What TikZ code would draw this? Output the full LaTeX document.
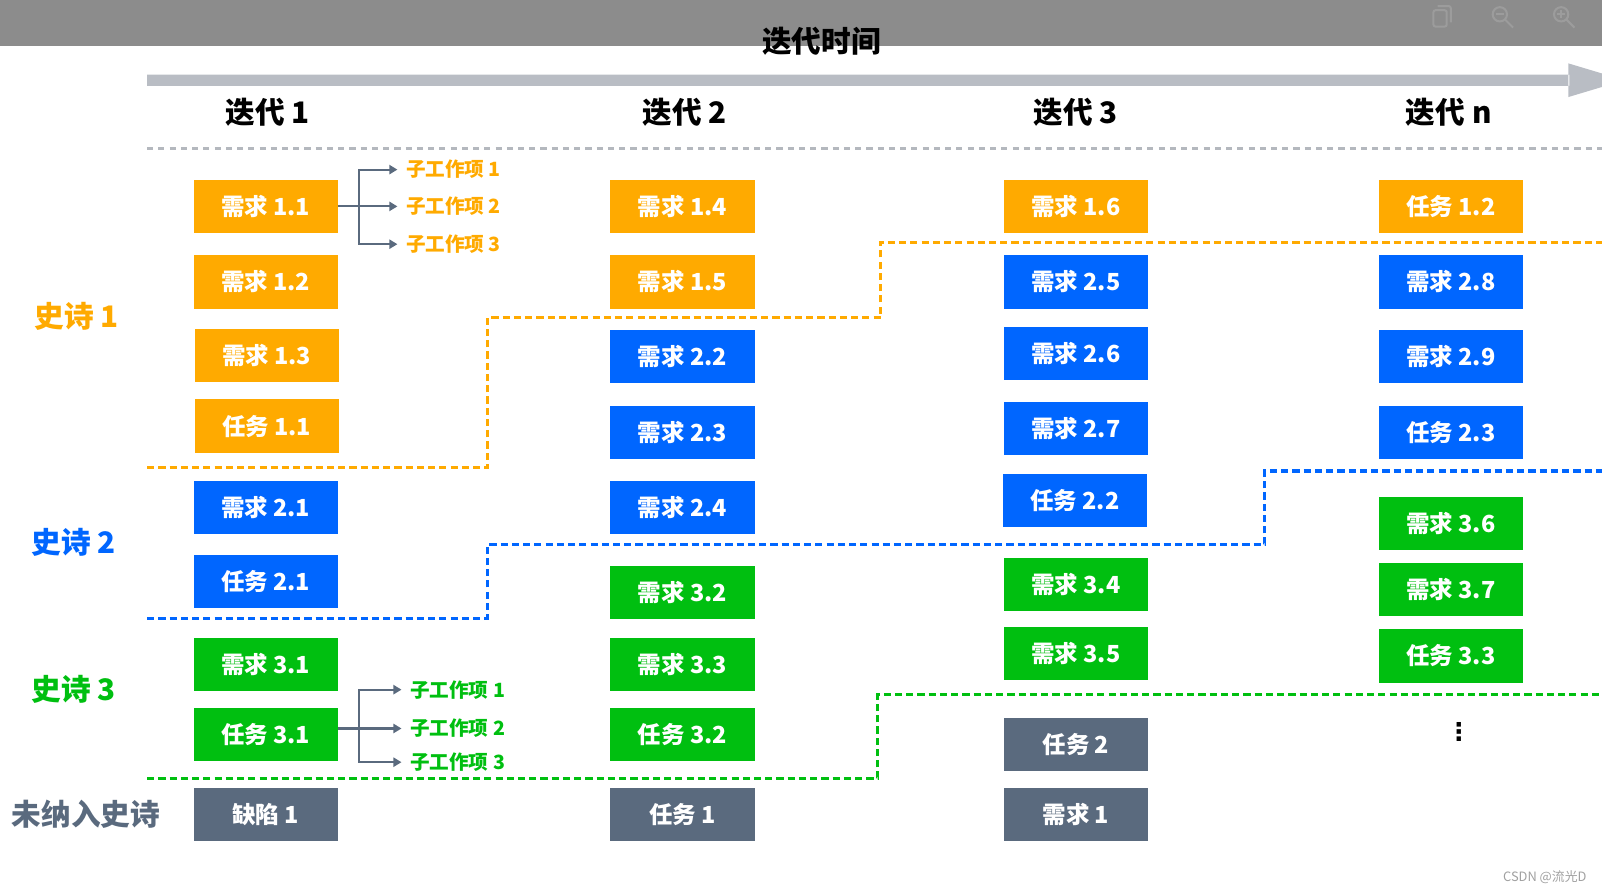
\documentclass[tikz,border=0pt]{standalone}
\usepackage{fontspec}
\setmainfont{Noto Sans CJK SC}
\newfontfamily\dejavu{DejaVu Sans}
\usetikzlibrary{arrows.meta}
\definecolor{org}{HTML}{FFAA00}
\definecolor{blu}{HTML}{0066FF}
\definecolor{grn}{HTML}{00BF10}
\definecolor{slt}{HTML}{5A6A7E}
\definecolor{topbar}{HTML}{8C8C8C}
\definecolor{iconc}{HTML}{9C9C9C}
\definecolor{axis}{HTML}{B9BDC4}
\definecolor{dashg}{HTML}{B4B8BE}
\definecolor{wm}{HTML}{A0A0A0}
\begin{document}
\begin{tikzpicture}[x=0.5pt,y=-0.5pt,
  item/.style={minimum width=70.5pt,minimum height=26pt,inner sep=0pt,text=white,
    font=\bfseries\fontsize{11.5}{12}\selectfont},
  ob/.style={item,fill=org},
  bb/.style={item,fill=blu},
  gb/.style={item,fill=grn},
  sb/.style={item,fill=slt},
  hdr/.style={font=\bfseries\fontsize{14.5}{15}\selectfont,text=black},
  epic/.style={font=\bfseries\fontsize{14.5}{15}\selectfont},
  subitem/.style={font=\bfseries\fontsize{9.6}{10}\selectfont,anchor=west,inner sep=0pt},
  bound/.style={line width=1.5pt,dash pattern=on 3.5pt off 2pt},
  branch/.style={draw=slt,line width=1pt},
  brarrow/.style={branch,-{Triangle[length=4pt,width=4.5pt]},shorten >=4pt},
]
\useasboundingbox (0,0) rectangle (1568,875);
% top bar
\fill[topbar] (0,0) rectangle (1568,45);
% faint icons
\draw[iconc,line width=1pt,rounded corners=1pt] (1403,10) rectangle (1416,26);
\draw[iconc,line width=1pt,rounded corners=1pt] (1407,6) -- (1420,6) -- (1420,22);
\draw[iconc,line width=1pt] (1468,14) circle (7);
\draw[iconc,line width=1pt] (1473,19) -- (1481,27);
\draw[iconc,line width=0.8pt] (1464,14) -- (1472,14);
\draw[iconc,line width=1pt] (1528,14) circle (7);
\draw[iconc,line width=1pt] (1533,19) -- (1541,27);
\draw[iconc,line width=0.8pt] (1524,14) -- (1532,14) (1528,10) -- (1528,18);
\node[font=\bfseries\fontsize{14.5}{15}\selectfont] (title) at (804,40) {迭代时间};
% time axis
\fill[axis] (144,73) rectangle (1536,84) (1535,62) -- (1590,78.5) -- (1535,95) -- cycle;
% headers
\node[hdr] (h1) at (262,110) {迭代 1};
\node[hdr] (h2) at (670,110) {迭代 2};
\node[hdr] (h3) at (1053,110) {迭代 3};
\node[hdr] (h4) at (1418,110) {迭代 n};
\draw[dashg,line width=1.5pt,dash pattern=on 3pt off 2.5pt] (144,145) -- (1568,145);
% epics
\node[epic,text=org] (e1) at (75,310) {史诗 1};
\node[epic,text=blu] (e2) at (72,531) {史诗 2};
\node[epic,text=grn] (e3) at (72,675) {史诗 3};
\node[epic,text=slt] (e0) at (84,797) {未纳入史诗};
% column 1
\node[ob] (a1) at (260,202) {需求 1.1};
\node[ob] (a2) at (260,276) {需求 1.2};
\node[ob] (a3) at (261,348) {需求 1.3};
\node[ob] (a4) at (261,417) {任务 1.1};
\node[bb] (a5) at (260,497) {需求 2.1};
\node[bb] (a6) at (260,569) {任务 2.1};
\node[gb] (a7) at (260,650) {需求 3.1};
\node[gb] (a8) at (260,719) {任务 3.1};
\node[sb] (a9) at (260,797) {缺陷 1};
% column 2
\node[ob] (b1) at (668,202) {需求 1.4};
\node[ob] (b2) at (668,276) {需求 1.5};
\node[bb] (b3) at (668,349) {需求 2.2};
\node[bb] (b4) at (668,423) {需求 2.3};
\node[bb] (b5) at (668,497) {需求 2.4};
\node[gb] (b6) at (668,580) {需求 3.2};
\node[gb] (b7) at (668,650) {需求 3.3};
\node[gb] (b8) at (668,719) {任务 3.2};
\node[sb] (b9) at (668,797) {任务 1};
% column 3
\node[ob] (c1) at (1053,202) {需求 1.6};
\node[bb] (c2) at (1053,276) {需求 2.5};
\node[bb] (c3) at (1053,346) {需求 2.6};
\node[bb] (c4) at (1053,419) {需求 2.7};
\node[bb] (c5) at (1052,490) {任务 2.2};
\node[gb] (c6) at (1053,572) {需求 3.4};
\node[gb] (c7) at (1053,640) {需求 3.5};
\node[sb] (c8) at (1053,729) {任务 2};
\node[sb] (c9) at (1053,797) {需求 1};
% column 4
\node[ob] (d1) at (1420,202) {任务 1.2};
\node[bb] (d2) at (1420,276) {需求 2.8};
\node[bb] (d3) at (1420,349) {需求 2.9};
\node[bb] (d4) at (1420,423) {任务 2.3};
\node[gb] (d5) at (1420,512) {需求 3.6};
\node[gb] (d6) at (1420,577) {需求 3.7};
\node[gb] (d7) at (1420,642) {任务 3.3};
\node[font=\dejavu\bfseries\fontsize{12}{12}\selectfont] (dots) at (1428,716) {⋮};
% epic boundaries
\draw[org,bound] (144,458) -- (477,458) -- (477,311) -- (862,311) -- (862,237) -- (1568,237);
\draw[blu,bound] (144,605) -- (477,605) -- (477,533) -- (1238,533) -- (1238,461) -- (1568,461);
\draw[grn,bound] (144,762) -- (859,762) -- (859,680) -- (1568,680);
% sub work items (top)
\coordinate (j1) at (351,202);
\node[subitem,text=org] (s11) at (397,166) {子工作项 1};
\node[subitem,text=org] (s12) at (397,202) {子工作项 2};
\node[subitem,text=org] (s13) at (397,239) {子工作项 3};
\draw[branch] (a1.east) -- (j1);
\draw[brarrow] (j1) |- (s11.west);
\draw[brarrow] (j1) -- (s12.west);
\draw[brarrow] (j1) |- (s13.west);
% sub work items (bottom)
\coordinate (j2) at (351,713);
\node[subitem,text=grn] (s21) at (401,675) {子工作项 1};
\node[subitem,text=grn] (s22) at (401,713) {子工作项 2};
\node[subitem,text=grn] (s23) at (401,746) {子工作项 3};
\draw[branch] (a8.east |- j2) -- (j2);
\draw[brarrow] (j2) |- (s21.west);
\draw[brarrow] (j2) -- (s22.west);
\draw[brarrow] (j2) |- (s23.west);
% watermark
\node[text=wm,font=\fontsize{6.3}{7}\selectfont] (wmark) at (1512,859) {CSDN @流光D};
\end{tikzpicture}
\end{document}
